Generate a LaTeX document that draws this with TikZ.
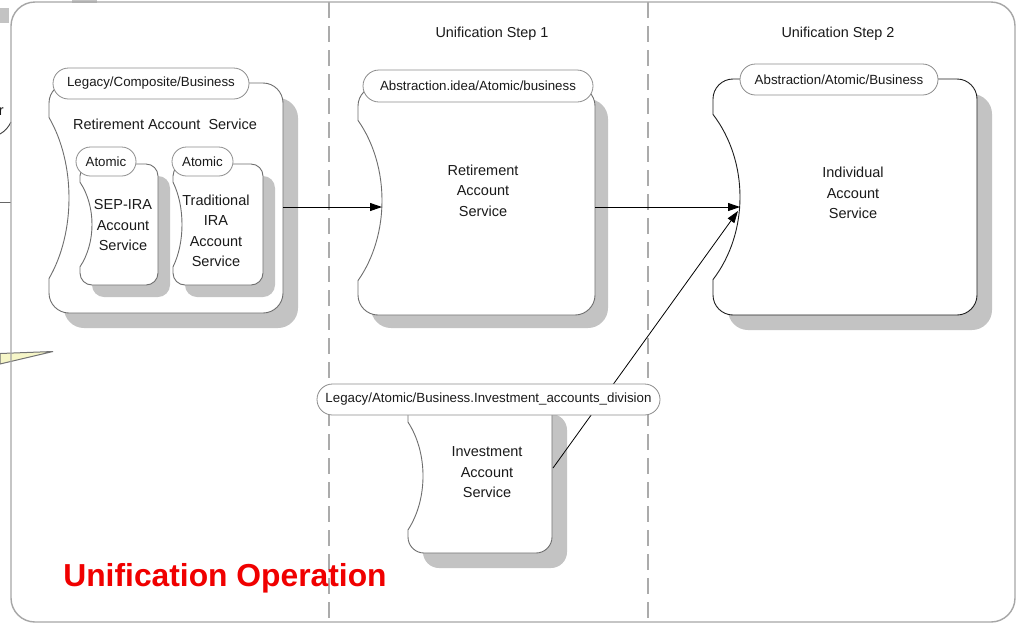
\documentclass[tikz,border=0pt]{standalone}
\usepackage{fontspec}
\setmainfont{Liberation Sans}
\usetikzlibrary{arrows.meta}
\definecolor{framec}{HTML}{A6A6A6}
\definecolor{dashc}{HTML}{ABABAB}
\definecolor{shadowc}{HTML}{C3C3C3}
\definecolor{pillc}{HTML}{8C8C8C}
\definecolor{edgec}{HTML}{6E6E6E}
\definecolor{darkedge}{HTML}{1E1E1E}
\definecolor{txtc}{HTML}{1A1A1A}
\definecolor{opred}{HTML}{F00000}
\definecolor{calloutc}{HTML}{F6F6C8}
\newcommand\svcshape[8]{%
  \pgfmathsetmacro\svA{0.15*(#4-#2)}%
  \pgfmathsetmacro\svM{0.2*(#4-#2)}%
  \pgfmathsetmacro\svK{4/3*#5}%
  \pgfmathsetmacro\svC{0.45*#6}%
  \begin{scope}[shift={(#7,#7)}]
  \fill[shadowc] (#1,{#2+#6}) .. controls (#1,{#2+\svC}) and ({#1+\svC},#2) .. ({#1+#6},#2) -- ({#3-#6},#2) .. controls ({#3-\svC},#2) and (#3,{#2+\svC}) .. (#3,{#2+#6}) -- (#3,{#4-#6}) .. controls (#3,{#4-\svC}) and ({#3-\svC},#4) .. ({#3-#6},#4) -- ({#1+#6},#4) .. controls ({#1+\svC},#4) and (#1,{#4-\svC}) .. (#1,{#4-#6}) -- (#1,{#4-\svA}) .. controls ({#1+\svK},{#4-\svA-\svM}) and ({#1+\svK},{#2+\svA+\svM}) .. (#1,{#2+\svA}) -- cycle;
  \end{scope}
  \filldraw[fill=white, draw=#8, line width=0.9pt] (#1,{#2+#6}) .. controls (#1,{#2+\svC}) and ({#1+\svC},#2) .. ({#1+#6},#2) -- ({#3-#6},#2) .. controls ({#3-\svC},#2) and (#3,{#2+\svC}) .. (#3,{#2+#6}) -- (#3,{#4-#6}) .. controls (#3,{#4-\svC}) and ({#3-\svC},#4) .. ({#3-#6},#4) -- ({#1+#6},#4) .. controls ({#1+\svC},#4) and (#1,{#4-\svC}) .. (#1,{#4-#6}) -- (#1,{#4-\svA}) .. controls ({#1+\svK},{#4-\svA-\svM}) and ({#1+\svK},{#2+\svA+\svM}) .. (#1,{#2+\svA}) -- cycle;
}
\tikzset{
  pill/.style={draw=pillc, fill=white, rounded corners=15.5pt, minimum height=31pt,
    inner xsep=5pt, inner ysep=0pt, font=\fontsize{13.3}{16}\selectfont, text=txtc, line width=0.8pt},
  smallpill/.style={pill, rounded corners=14.5pt, minimum height=29pt},
  bodytext/.style={align=center, font=\fontsize{14.5}{20.5}\selectfont, text=txtc, inner sep=0pt},
  flow/.style={-{Triangle[length=12pt,width=8pt]}, line width=1pt, black},
  steptitle/.style={font=\fontsize{14.4}{17}\selectfont, text=txtc},
  lane/.style={dashc, line width=1.3pt, dash pattern=on 16pt off 8pt},
}
\begin{document}
\begin{tikzpicture}[x=1pt,y=-1pt]
\useasboundingbox (0,0) rectangle (1016,625);
\fill[white] (0,0) rectangle (1016,625);
% fragments outside the frame
\fill[shadowc] (0,8) rectangle (9,23);
\fill[shadowc] (72,0) rectangle (97,3);
\node[anchor=base east, font=\fontsize{14.5}{17}\selectfont, text=txtc, inner sep=0pt] (frag) at (4,115) {r};
\draw[black!75, line width=0.9pt] (0,134) .. controls (5,131) and (8,128) .. (11,122);
\draw[black!60, line width=0.9pt] (0,202) -- (11,202);
\filldraw[fill=calloutc, draw=black!55, line width=1pt] (0,353.5) -- (53,351.5) -- (0,364) -- cycle;
% frame
\draw[framec, line width=1.4pt, rounded corners=24pt] (11,2) rectangle (1015,622);
% lanes
\coordinate (lane1top) at (329,2);
\coordinate (lane1bot) at (329,622);
\coordinate (lane2top) at (648,2);
\coordinate (lane2bot) at (648,622);
\draw[lane] (lane1top) -- (lane1bot);
\draw[lane] (lane2top) -- (lane2bot);
\node[steptitle] (st1) at (492,33.5) {Unification Step 1};
\node[steptitle] (st2) at (838,33.5) {Unification Step 2};
% shapes
\svcshape{49}{83}{283}{313}{20}{20}{15}{edgec}
\svcshape{80}{164}{158}{285}{12}{12}{12}{edgec}
\svcshape{173}{164}{263}{285}{9}{12}{12}{edgec}
\svcshape{358}{86}{595}{315}{24}{20}{13}{edgec}
\svcshape{713}{79}{977}{315}{27}{20}{15}{darkedge}
\svcshape{408}{399}{552}{553}{15}{16}{15}{edgec}
% connection points
\coordinate (legR) at (283,207);
\coordinate (midIn) at (382,207);
\coordinate (midR) at (595,207);
\coordinate (indIn) at (740,207);
\coordinate (invR) at (553,468);
\coordinate (indIn2) at (738,211);
\draw[flow] (legR) -- (midIn);
\draw[flow] (midR) -- (indIn);
\draw[flow, line width=0.8pt] (invR) -- (indIn2);
% labels
\node[pill, minimum width=196pt] (lcb) at (151,83.5) {Legacy/Composite/Business};
\node[bodytext] (ras) at (165,124) {Retirement Account\ \ Service};
\node[smallpill, minimum width=60pt] (at1) at (106,161.5) {Atomic};
\node[smallpill, minimum width=61pt] (at2) at (202.5,161.5) {Atomic};
\node[bodytext] (sep) at (123,225) {SEP-IRA\\Account\\Service};
\node[bodytext] (trad) at (216,231) {Traditional\\IRA\\Account\\Service};
\node[pill, minimum width=230pt, minimum height=32pt, rounded corners=16pt] (aia) at (478,86) {Abstraction.idea/Atomic/business};
\node[bodytext] (ret) at (483,190.5) {Retirement\\Account\\Service};
\node[pill, minimum width=198pt] (aab) at (839,79.5) {Abstraction/Atomic/Business};
\node[bodytext] (ind) at (853,193) {Individual\\Account\\Service};
\node[pill, minimum width=343pt] (lab) at (488.5,399.5) {Legacy/Atomic/Business.Investment\_accounts\_division};
\node[bodytext] (inv) at (487,472.5) {Investment\\Account\\Service};
\node[font=\bfseries\fontsize{31.8}{36}\selectfont, text=opred, inner sep=0pt] (uo) at (225,578.5) {Unification Operation};
\end{tikzpicture}
\end{document}
